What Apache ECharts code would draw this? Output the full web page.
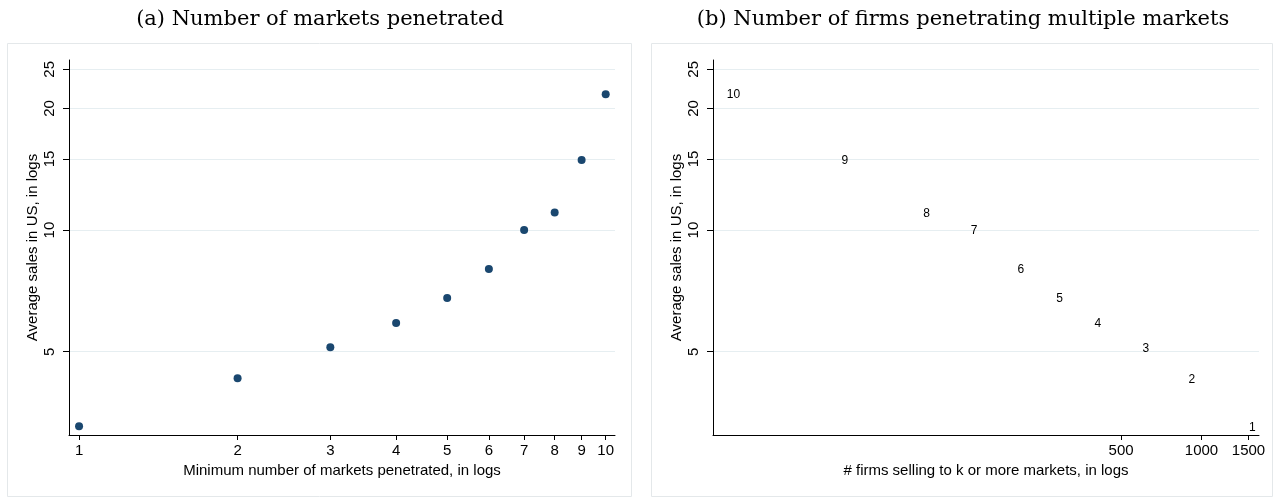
<!DOCTYPE html>
<html>
<head>
<meta charset="utf-8">
<title>Market penetration and average sales</title>
<script src="https://cdn.jsdelivr.net/npm/echarts@6/dist/echarts.min.js"></script>
<style>
  html, body { margin: 0; padding: 0; background: #fff; }
  #chart { width: 1278px; height: 498px; }
</style>
</head>
<body>
<div id="chart"></div>
<script>
// Minimum number of markets penetrated (k)
const marketCounts = [1, 2, 3, 4, 5, 6, 7, 8, 9, 10];
// Average sales in US for firms selling to k or more markets
const avgSales = [3.27, 4.30, 5.13, 5.89, 6.79, 8.01, 10.0, 11.06, 14.9, 21.7];
// Number of firms selling to k or more markets
const firmCounts = [1444, 856, 576, 381, 274, 196, 131, 87, 43, 16];

// Tick labels
const salesTicks = [5, 10, 15, 20, 25];
const marketTicks = [1, 2, 3, 4, 5, 6, 7, 8, 9, 10];
const firmTicks = [500, 1000, 1500];

const titles = ['(a) Number of markets penetrated', '(b) Number of firms penetrating multiple markets'];
const yTitle = 'Average sales in US, in logs';
const xTitles = ['Minimum number of markets penetrated, in logs', '# firms selling to k or more markets, in logs'];

const SANS = 'Liberation Sans, Arial, sans-serif';
const SERIF = 'DejaVu Serif, serif';
const NAVY = '#1a476f';
const GRID_LINE = '#e6eef1';
const FRAME = '#e4e8ea';
const FONT_SIZE = 15;

const plain = v => String(Math.round(v * 1000) / 1000);

function yAxis(gridIndex) {
  return {
    type: 'log',
    gridIndex: gridIndex,
    min: 3.111,
    max: 26.36,
    name: yTitle,
    nameLocation: 'middle',
    nameGap: 29,
    nameRotate: 90,
    nameTextStyle: { fontFamily: SANS, fontSize: FONT_SIZE, color: '#000' },
    axisLine: { show: true, onZero: false, lineStyle: { color: '#000', width: 1 } },
    axisTick: { show: true, length: 6, lineStyle: { color: '#000' }, customValues: salesTicks },
    axisLabel: { rotate: 90, margin: 12, fontFamily: SANS, fontSize: FONT_SIZE, color: '#000',
      customValues: salesTicks, formatter: plain },
    splitLine: { show: true, lineStyle: { color: GRID_LINE, width: 1 } },
    minorTick: { show: false },
    minorSplitLine: { show: false }
  };
}

function xAxis(gridIndex, min, max, ticks, name) {
  return {
    type: 'log',
    gridIndex: gridIndex,
    min: min,
    max: max,
    name: name,
    nameLocation: 'middle',
    nameGap: 25,
    nameTextStyle: { fontFamily: SANS, fontSize: FONT_SIZE, color: '#000' },
    axisLine: { show: true, onZero: false, lineStyle: { color: '#000', width: 1 } },
    axisTick: { show: true, length: 5, lineStyle: { color: '#000' }, customValues: ticks },
    axisLabel: { margin: 8, fontFamily: SANS, fontSize: FONT_SIZE, color: '#000',
      customValues: ticks, hideOverlap: false, formatter: plain },
    splitLine: { show: false }
  };
}

const chart = echarts.init(document.getElementById('chart'), null, { renderer: 'canvas' });

chart.setOption({
  backgroundColor: '#fff',
  animation: false,
  title: [
    { text: titles[0], left: 315, top: 4, textAlign: 'center',
      textStyle: { fontFamily: SERIF, fontSize: 21, fontWeight: 'normal', color: '#000' } },
    { text: titles[1], left: 958, top: 4, textAlign: 'center',
      textStyle: { fontFamily: SERIF, fontSize: 21, fontWeight: 'normal', color: '#000' } }
  ],
  graphic: [
    { type: 'rect', shape: { x: 7.5, y: 43.5, width: 624, height: 453 },
      style: { fill: 'none', stroke: FRAME, lineWidth: 1 }, z: -1 },
    { type: 'rect', shape: { x: 651.5, y: 43.5, width: 621, height: 453 },
      style: { fill: 'none', stroke: FRAME, lineWidth: 1 }, z: -1 }
  ],
  grid: [
    { left: 69, right: 663, top: 60, bottom: 63 },
    { left: 713, right: 19, top: 60, bottom: 63 }
  ],
  xAxis: [
    xAxis(0, 0.957, 10.415, marketTicks, xTitles[0]),
    xAxis(1, 14.83, 1642, firmTicks, xTitles[1])
  ],
  yAxis: [yAxis(0), yAxis(1)],
  series: [
    {
      type: 'scatter',
      xAxisIndex: 0,
      yAxisIndex: 0,
      symbol: 'circle',
      symbolSize: 8,
      itemStyle: { color: NAVY, opacity: 1 },
      data: marketCounts.map((k, i) => [k, avgSales[i]])
    },
    {
      type: 'scatter',
      xAxisIndex: 1,
      yAxisIndex: 1,
      symbolSize: 0,
      itemStyle: { color: '#000', opacity: 1 },
      label: {
        show: true,
        position: 'right',
        distance: 5,
        offset: [0, 1],
        fontFamily: SANS,
        fontSize: 12,
        color: '#000',
        opacity: 1,
        formatter: p => String(p.value[2])
      },
      data: firmCounts.map((n, i) => [n, avgSales[i], marketCounts[i]])
    }
  ]
});
</script>
</body>
</html>
